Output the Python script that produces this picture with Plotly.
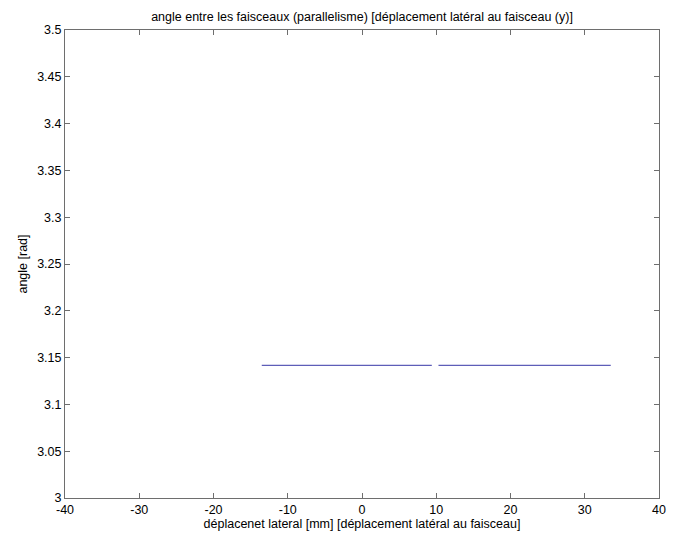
import numpy as np
import plotly.graph_objects as go

# lateral displacement [mm] and measured beam angle [rad]; None marks the missing sample
displacement = [-13.5, 9.4, None, 10.3, 33.5]
angle = [3.1416, 3.1416, None, 3.1416, 3.1416]

x_ticks = [-40, -30, -20, -10, 0, 10, 20, 30, 40]
x_tick_labels = ["-40", "-30", "-20", "-10", "0", "10", "20", "30", "40"]
y_ticks = [3.0, 3.05, 3.1, 3.15, 3.2, 3.25, 3.3, 3.35, 3.4, 3.45, 3.5]
y_tick_labels = ["3", "3.05", "3.1", "3.15", "3.2", "3.25", "3.3", "3.35", "3.4", "3.45", "3.5"]

font = dict(family="Liberation Sans, Arial, sans-serif", size=12.5, color="#000000")

fig = go.Figure()
fig.add_trace(go.Scatter(
    x=displacement, y=angle, mode="lines",
    line=dict(color="#5e5eb8", width=1.2),
    connectgaps=False, showlegend=False,
))

axis_common = dict(
    showgrid=False, zeroline=False,
    showline=True, linecolor="#6e6e6e", linewidth=1,
    mirror="ticks", ticks="inside", ticklen=5, tickcolor="#6e6e6e",
    tickfont=font,
)

fig.update_layout(
    width=673, height=536,
    margin=dict(l=65, r=7, t=30, b=38),
    paper_bgcolor="white", plot_bgcolor="white",
    font=font,
    title=dict(
        text="angle entre les faisceaux (parallelisme) [déplacement latéral au faisceau (y)]",
        x=0.5, xref="paper", y=1 - 17 / 536, yref="container",
        xanchor="center", yanchor="middle", font=font,
    ),
    xaxis=dict(
        range=[-40, 40], tickvals=x_ticks, ticktext=x_tick_labels,
        title=dict(text="déplacenet lateral [mm] [déplacement latéral au faisceau]",
                   font=font, standoff=2),
        **axis_common,
    ),
    yaxis=dict(
        range=[3.0, 3.5], tickvals=y_ticks, ticktext=y_tick_labels,
        title=dict(text="angle [rad]", font=font, standoff=6),
        **axis_common,
    ),
)

fig.write_html("out.html")
